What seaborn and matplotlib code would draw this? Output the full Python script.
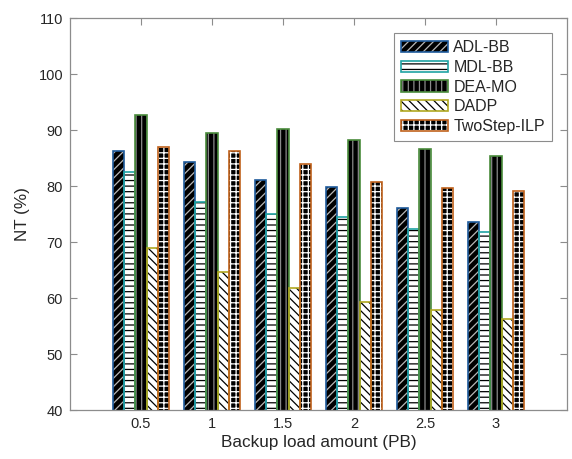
import matplotlib
matplotlib.use("Agg")
import matplotlib.pyplot as plt
import seaborn as sns
import pandas as pd
from matplotlib.patches import Patch

loads = ["0.5", "1", "1.5", "2", "2.5", "3"]
methods = ["ADL-BB", "MDL-BB", "DEA-MO", "DADP", "TwoStep-ILP"]
adl_bb = [86.2, 84.3, 81.1, 79.8, 76.0, 73.5]
mdl_bb = [82.5, 77.2, 75.0, 74.5, 72.3, 71.7]
dea_mo = [92.6, 89.5, 90.1, 88.3, 86.6, 85.4]
dadp = [68.9, 64.6, 61.7, 59.3, 57.9, 56.2]
twostep_ilp = [87.0, 86.2, 84.0, 80.8, 79.6, 79.1]
y_ticks = [40, 50, 60, 70, 80, 90, 100, 110]

series = [adl_bb, mdl_bb, dea_mo, dadp, twostep_ilp]
rows = []
for m, vals in zip(methods, series):
    for l, v in zip(loads, vals):
        rows.append({"load": l, "nt": v, "method": m})
df = pd.DataFrame(rows)

fill_colors = ["#000000", "#ffffff", "#000000", "#ffffff", "#000000"]
hatch_colors = ["#b8b8b8", "#000000", "#8a8a8a", "#000000", "#ffffff"]
hatches = ["////", "---", "|||", "\\\\\\\\", "+++"]
edge_colors = ["#1f5b9c", "#1fa3a3", "#4a8c3c", "#b0a820", "#c0621c"]

sns.set_theme(style="white")
plt.rcParams["font.family"] = ["Liberation Sans", "DejaVu Sans"]
plt.rcParams["hatch.linewidth"] = 0.9

fig = plt.figure(figsize=(5.72, 4.59), dpi=100)
ax = fig.add_axes([70/572, 1-410/459, 497/572, 392/459])

sns.barplot(data=df, x="load", y="nt", hue="method", order=loads, hue_order=methods,
            palette=fill_colors, saturation=1, width=0.8, errorbar=None,
            legend=False, linewidth=0, ax=ax)
for i, cont in enumerate(ax.containers):
    for bar in cont:
        bar.set_hatch(hatches[i])
        bar.set_edgecolor(hatch_colors[i])
        bar.set_linewidth(0)

sns.barplot(data=df, x="load", y="nt", hue="method", order=loads, hue_order=methods,
            palette=edge_colors, saturation=1, width=0.8, errorbar=None,
            legend=False, fill=False, linewidth=1.2, ax=ax)

ax.set_xlim(-1, 6)
ax.set_ylim(40, 110)
ax.set_yticks(y_ticks)
ax.set_xlabel("Backup load amount (PB)", fontsize=12.3, color="#262626", labelpad=3)
ax.set_ylabel("NT (%)", fontsize=12.3, color="#262626", labelpad=6)
ax.tick_params(axis="both", which="both", direction="in", length=5, width=0.8,
               color="#8c8c8c", labelsize=10.5, labelcolor="#262626",
               top=True, right=True, bottom=True, left=True, pad=5)
for s in ax.spines.values():
    s.set_color("#8c8c8c")
    s.set_linewidth(0.9)
    s.set_visible(True)

handles = []
for i in range(len(methods)):
    h1 = Patch(facecolor=fill_colors[i], edgecolor=hatch_colors[i], hatch=hatches[i], linewidth=0)
    h2 = Patch(facecolor="none", edgecolor=edge_colors[i], linewidth=1.2)
    handles.append((h1, h2))
leg = ax.legend(handles, methods, loc="upper right", bbox_to_anchor=(0.970, 0.962),
                borderaxespad=0, fontsize=11.5, fancybox=False, framealpha=1,
                edgecolor="#8c8c8c", handlelength=2.9, handleheight=0.7,
                labelspacing=0.3, handletextpad=0.35, borderpad=0.45)
leg.get_frame().set_linewidth(0.8)

fig.savefig("out.png", dpi=100)
